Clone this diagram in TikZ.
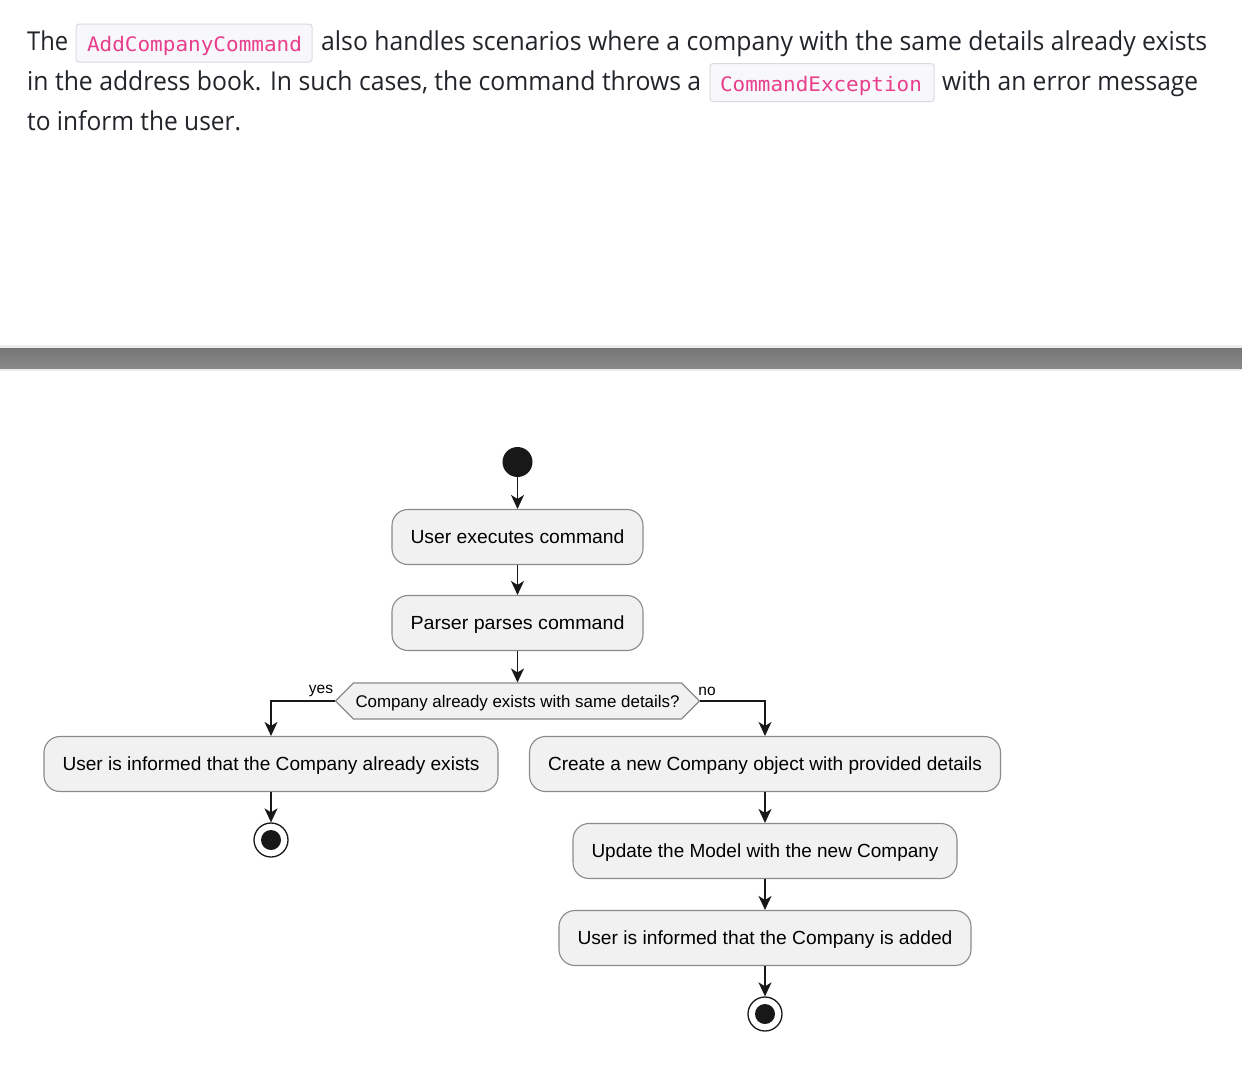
\documentclass[tikz,border=0pt]{standalone}
\usepackage{fontspec}
\usepackage{graphicx}
\usetikzlibrary{arrows.meta,shapes.symbols}
\newfontfamily\parafont{Open Sans}
\newfontfamily\codefont{DejaVu Sans Mono}
\newfontfamily\diagfont{Liberation Sans}
\definecolor{paratext}{HTML}{212529}
\definecolor{codepink}{HTML}{E83E8C}
\definecolor{codebg}{HTML}{F8F8FC}
\definecolor{codeborder}{HTML}{DADAE0}
\definecolor{boxfill}{HTML}{F1F1F1}
\definecolor{boxline}{HTML}{8A8A8A}
\definecolor{ink}{HTML}{181818}
\definecolor{bartop}{HTML}{767676}
\definecolor{barmid}{HTML}{929292}
\definecolor{barbot}{HTML}{888888}
\definecolor{barlight}{HTML}{ECECEC}
\newsavebox\fitbox
\newcommand\fitto[2]{\sbox\fitbox{#2}\edef\fitw{\the\wd\fitbox}\pgfmathsetmacro\fitfac{#1/\fitw}\scalebox{\fitfac}[1]{\usebox\fitbox}}
\tikzset{
  para/.style={anchor=base west, inner sep=0pt, text=paratext, font=\parafont\fontsize{26}{32}\selectfont},
  codebox/.style={draw=codeborder, line width=1pt, fill=codebg, rounded corners=3pt, minimum height=38pt, inner sep=0pt},
  codetext/.style={anchor=base, inner sep=0pt, text=codepink, font=\codefont\fontsize{20}{24}\selectfont},
  actbox/.style={draw=boxline, line width=1.1pt, fill=boxfill, rounded corners=16pt, minimum height=55pt, inner xsep=18.5pt, inner ysep=0pt, text height=13.7pt, text depth=0pt, text=black, font=\diagfont\fontsize{19}{23}\selectfont},
  decbox/.style={signal, signal to=west and east, draw=boxline, line width=1.1pt, fill=boxfill, minimum height=36pt, inner xsep=2pt, inner ysep=0pt, text height=12.1pt, text depth=0pt, text=black, font=\diagfont\fontsize{16.9}{20}\selectfont},
  flow/.style={draw=ink, line width=1.5pt, -{Stealth[length=14pt,width=13pt,inset=4pt]}},
  branchlbl/.style={inner sep=0pt, text=black, font=\diagfont\fontsize{15.5}{18}\selectfont},
  startdot/.style={circle, fill=ink, minimum size=30pt, inner sep=0pt},
  endring/.style={circle, draw=ink, line width=1.3pt, fill=white, minimum size=34pt, inner sep=0pt},
  enddot/.style={circle, fill=ink, minimum size=20pt, inner sep=0pt},
}
\begin{document}
\begin{tikzpicture}[x=1pt,y=-1pt]
\useasboundingbox (0,0) rectangle (1242,1072);
\fill[white] (0,0) rectangle (1242,1072);

% paragraph
\node[para] (l1a) at (27,50) {\fitto{41}{The}};
\node[codebox, minimum width=236pt] (c1) at (194,43) {};
\node[codetext] (c1t) at (194.5,51) {\fitto{215}{AddCompanyCommand}};
\node[para] (l1b) at (321,50) {\fitto{886}{also handles scenarios where a company with the same details already exists}};
\node[para] (l2a) at (27,90) {\fitto{674}{in the address book. In such cases, the command throws a}};
\node[codebox, minimum width=224pt] (c2) at (822,82.5) {};
\node[codetext] (c2t) at (821,91) {\fitto{202}{CommandException}};
\node[para] (l2b) at (942,90) {\fitto{256}{with an error message}};
\node[para] (l3) at (27,130) {\fitto{214}{to inform the user.}};

% separator bar
\fill[barlight] (0,345) rectangle (1242,348);
\fill[barlight] (0,368) rectangle (1242,371);
\shade[top color=bartop, middle color=barmid, bottom color=barbot] (0,348) rectangle (1242,368);

% diagram
\node[startdot] (start) at (517.5,462) {};
\node[actbox] (b1) at (517.5,537) {\fitto{214}{User executes command}};
\node[actbox] (b2) at (517.5,623) {\fitto{214}{Parser parses command}};
\node[decbox] (dec) at (517.5,701) {\fitto{324}{Company already exists with same details?}};
\node[actbox] (bL) at (271,764) {\fitto{417}{User is informed that the Company already exists}};
\node[actbox] (bR) at (765,764) {\fitto{434}{Create a new Company object with provided details}};
\node[actbox] (bR2) at (765,851) {\fitto{347}{Update the Model with the new Company}};
\node[actbox] (bR3) at (765,938) {\fitto{375}{User is informed that the Company is added}};
\node[endring] (endL) at (271,840) {};
\node[enddot] (endLdot) at (endL) {};
\node[endring] (endR) at (765,1014) {};
\node[enddot] (endRdot) at (endR) {};

\node[branchlbl] (yes) at (321,691) {yes};
\node[branchlbl] (no) at (707,691) {no};

\draw[flow] (start) -- (b1);
\draw[flow] (b1) -- (b2);
\draw[flow] (b2) -- (dec.north);
\draw[flow] (dec.west) -| (bL.north);
\draw[flow] (dec.east) -| (bR.north);
\draw[flow] (bL) -- (endL);
\draw[flow] (bR) -- (bR2);
\draw[flow] (bR2) -- (bR3);
\draw[flow] (bR3) -- (endR);
\end{tikzpicture}
\end{document}
